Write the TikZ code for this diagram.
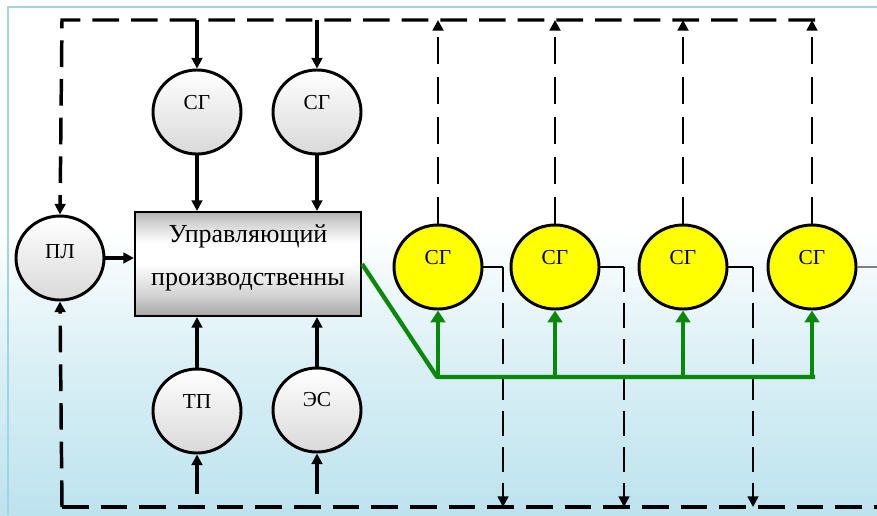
\documentclass[tikz,border=0pt]{standalone}
\usepackage{fontspec}
\setmainfont{Liberation Serif}
\usetikzlibrary{arrows.meta,shapes.geometric,calc}

\definecolor{bgblue}{HTML}{BDE3EE}
\definecolor{framecol}{HTML}{9ED6E8}
\definecolor{flowgreen}{HTML}{088A08}
\definecolor{sgyellow}{HTML}{FFFF00}

% page background: white above, pale blue towards the bottom
\pgfdeclareverticalshading{bgshade}{100bp}{color(0bp)=(bgblue); color(25bp)=(bgblue);
  color(40bp)=(bgblue!55!white); color(53bp)=(white); color(100bp)=(white)}
% metallic grey fill of the control block
\pgfdeclareverticalshading{boxshade}{100bp}{color(0bp)=(gray!70); color(25bp)=(gray!70);
  color(35bp)=(gray!35); color(50bp)=(white); color(60bp)=(white); color(70bp)=(gray!35);
  color(75bp)=(gray!60); color(100bp)=(gray!60)}

\tikzset{
  conn/.style={line width=2.3pt},
  dsh/.style={line width=2.6pt, dash pattern=on 20pt off 9pt},
  updash/.style={line width=2.1pt, dash pattern=on 20pt off 10pt},
  thindash/.style={line width=1.9pt, dash pattern=on 19pt off 8pt},
  arr/.style={-{Triangle[length=8pt,width=8pt]}},
  grn/.style={draw=flowgreen, line width=3.2pt},
  garr/.style={-{Triangle[length=9pt,width=11pt]}},
  disc/.style={ellipse, draw, line width=2.2pt, minimum width=66pt, minimum height=63pt, inner sep=0pt},
  graydisc/.style={disc, top color=white, bottom color=gray!30},
  yeldisc/.style={disc, fill=sgyellow},
  lbl/.style={font=\fontsize{16}{16}\selectfont, inner sep=0pt},
  boxtxt/.style={font=\fontsize{19.5}{21}\selectfont, inner sep=0pt},
}

\begin{document}
\begin{tikzpicture}[x=0.75pt,y=-0.75pt]
\useasboundingbox (0,0) rectangle (877,515);
\shade[shading=bgshade] (0,0) rectangle (877,515);
\draw[framecol, line width=1.5pt] (8,515) -- (8,7) -- (877,7);

% control block and the four supporting units
\node[draw, line width=1.6pt, shading=boxshade, minimum width=169.5pt, minimum height=78pt, inner sep=0pt] (box) at (248,264) {};
\node[boxtxt] (boxt1) at (248,236) {Управляющий};
\node[boxtxt] (boxt2) at (248,282) {производственны};

\node[graydisc] (pl) at (60,258) {};
\node[lbl] (plt) at (60,252) {ПЛ};
\node[graydisc] (t1) at (197,112) {};
\node[lbl] (t1t) at (197,103) {СГ};
\node[graydisc] (t2) at (317,112) {};
\node[lbl] (t2t) at (317,103) {СГ};
\node[graydisc] (b1) at (197,411) {};
\node[lbl] (b1t) at (197,402) {ТП};
\node[graydisc] (b2) at (317,410) {};
\node[lbl] (b2t) at (317,400) {ЭС};

% generating units
\node[yeldisc] (y1) at (438,267) {};
\node[lbl] (y1t) at (438,258) {СГ};
\node[yeldisc] (y2) at (555,267) {};
\node[lbl] (y2t) at (555,258) {СГ};
\node[yeldisc] (y3) at (683,267) {};
\node[lbl] (y3t) at (683,258) {СГ};
\node[yeldisc] (y4) at (812,267) {};
\node[lbl] (y4t) at (812,258) {СГ};

% bus corners
\coordinate (topL) at (62,20);
\coordinate (topR) at (815,20);
\coordinate (botL) at (62,507);
\coordinate (botR) at (877,507);
\coordinate (feed) at (0,494);
\coordinate (g0) at (437,377);
\coordinate (g4) at (815,377);
\coordinate (d1) at (503,267);
\coordinate (d2) at (624,267);
\coordinate (d3) at (753,267);
\coordinate (edge) at (877,267);

% dashed feedback buses
\draw[dsh,arr] (topR) -- (topL) -- (pl.north);
\draw[dsh] (botL) -- (botR);
\draw[dsh,arr] (botL) -- (pl.south);
\foreach \n in {y1,y2,y3,y4}
  \draw[updash,arr] (\n.north) -- (\n.north |- topL);

% solid links to the control block
\draw[conn,arr] (pl.east) -- (pl.east -| box.west);
\draw[conn,arr] (t1.north |- topL) -- (t1.north);
\draw[conn,arr] (t2.north |- topL) -- (t2.north);
\draw[conn,arr] (t1.south) -- (t1.south |- box.north);
\draw[conn,arr] (t2.south) -- (t2.south |- box.north);
\draw[conn,arr] (b1.north) -- (b1.north |- box.south);
\draw[conn,arr] (b2.north) -- (b2.north |- box.south);
\draw[conn,arr] (b1.south |- feed) -- (b1.south);
\draw[conn,arr] (b2.south |- feed) -- (b2.south);

% outputs of the generating units
\draw[line width=1.8pt] (y1.east) -- (d1);
\draw[line width=1.8pt] (y2.east) -- (d2);
\draw[line width=1.8pt] (y3.east) -- (d3);
\draw[line width=1pt, gray] (y4.east) -- (edge);
\draw[thindash,arr] (d1) -- (d1 |- botL);
\draw[thindash,arr] (d2) -- (d2 |- botL);
\draw[thindash,arr] (d3) -- (d3 |- botL);

% control signals to the generating units
\draw[grn, line join=round] (box.east) -- (g0) -- (g4);
\foreach \n in {y1,y2,y3,y4}
  \draw[grn,garr] (\n.south |- g0) -- (\n.south);
\end{tikzpicture}
\end{document}
